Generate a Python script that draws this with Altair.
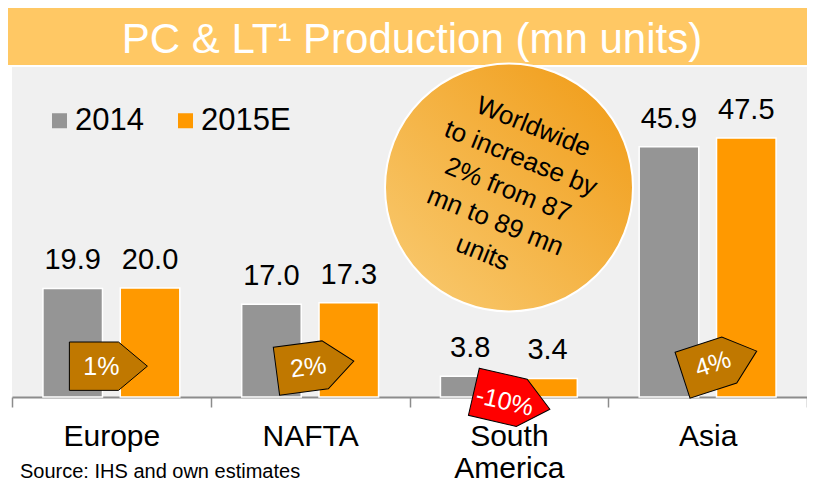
import altair as alt
import pandas as pd

# ---- data ----
regions = ["Europe", "NAFTA", "South America", "Asia"]
years = ["2014", "2015E"]
values_2014 = [19.9, 17.0, 3.8, 45.9]
values_2015 = [20.0, 17.3, 3.4, 47.5]
change_pct = [1, 2, -10, 4]
title_text = "PC & LT\u00b9 Production (mn units)"
bubble_lines = ["Worldwide", "to increase by", "2% from 87", "mn to 89 mn", "units"]
source_text = "Source: IHS and own estimates"

rows = []
for r, a, b in zip(regions, values_2014, values_2015):
    rows.append({"region": r, "year": years[0], "value": a})
    rows.append({"region": r, "year": years[1], "value": b})
bars_df = pd.DataFrame(rows)
badge_df = pd.DataFrame({"region": regions, "change": change_pct})

FONT = "Liberation Sans"
GRAY = "#959595"
ORANGE = "#FF9900"
YDOM = [0, 60.5]
W, H = 795, 330

X = alt.X(
    "region:N",
    sort=regions,
    scale=alt.Scale(paddingInner=0, paddingOuter=0),
    axis=alt.Axis(
        title=None, labelAngle=0, labelFontSize=30, labelColor="black",
        labelFont=FONT, labelPadding=14, labelLineHeight=32,
        tickSize=10, tickBand="extent", tickColor="#8C8C8C", tickWidth=1.5,
        domainColor="#8C8C8C", domainWidth=2, grid=False,
        labelExpr="datum.value == 'South America' ? ['South', 'America'] : datum.value",
    ),
)
XOFF = alt.XOffset("year:N", sort=years, scale=alt.Scale(paddingInner=0.23, paddingOuter=0.4))
YSC = alt.Scale(domain=YDOM)

one = alt.Data(values=[{}])

banner = alt.Chart(one).mark_rect(color="#FFC864").encode(
    x=alt.value(-6), x2=alt.value(W), y=alt.value(-60), y2=alt.value(-2)
)
title = alt.Chart(one).mark_text(
    font=FONT, fontSize=42, color="white", align="center", baseline="alphabetic"
).encode(x=alt.value(400), y=alt.value(-14), text=alt.value(title_text))

bars = alt.Chart(bars_df).mark_bar(stroke="white", strokeWidth=1.5).encode(
    x=X,
    xOffset=XOFF,
    y=alt.Y("value:Q", scale=YSC, axis=None),
    color=alt.Color(
        "year:N", sort=years,
        scale=alt.Scale(domain=years, range=[GRAY, ORANGE]),
        legend=alt.Legend(
            orient="none", legendX=32, legendY=38, direction="horizontal",
            title=None, symbolType="square", symbolSize=225, symbolStrokeWidth=0,
            symbolOpacity=1, labelFontSize=31, labelFont=FONT, labelColor="black",
            labelOffset=0, columnPadding=26, padding=0,
        ),
    ),
)
labels = alt.Chart(bars_df).mark_text(
    font=FONT, fontSize=29, color="black", baseline="alphabetic", dy=-19
).encode(
    x=X, xOffset=XOFF,
    y=alt.Y("value:Q", scale=YSC, axis=None),
    text=alt.Text("value:Q", format=".1f"),
)

bubble = alt.Chart(one).mark_point(
    shape="circle", size=61504, filled=True, opacity=1,
    fill=alt.LinearGradient(
        gradient="linear", x1=1, y1=0, x2=0, y2=1,
        stops=[alt.GradientStop(color="#F09A14", offset=0),
               alt.GradientStop(color="#F9CC74", offset=1)],
    ),
    stroke="white", strokeWidth=2,
).encode(x=alt.value(497), y=alt.value(120.5))
bubble_text = alt.Chart(one).mark_text(
    font=FONT, fontSize=26, color="black", angle=22, lineHeight=34,
    align="center", baseline="middle", dy=-68,
).encode(x=alt.value(496), y=alt.value(123), text=alt.value(bubble_lines))

PENT = "M-1,-0.62L0.26,-0.62L1,0L0.26,0.62L-1,0.62Z"
badge_base = alt.Chart(badge_df).transform_calculate(
    by="datum.region == 'Asia' ? 6.2 : datum.change < 0 ? -0.65 : 5.65",
    bx="datum.region == 'Europe' ? -3 : datum.region == 'NAFTA' ? 5 : datum.region == 'South America' ? 3 : 12",
    rot="datum.region == 'NAFTA' ? 352.5 : datum.region == 'South America' ? 13 : datum.region == 'Asia' ? 342 : 0",
    lbl="datum.change + '%'",
)
badges = badge_base.mark_point(
    shape=PENT, size=6084, filled=True, opacity=1, stroke="black", strokeWidth=1,
    xOffset=alt.ExprRef("datum.bx"),
).encode(
    x=X,
    y=alt.Y("by:Q", scale=YSC, axis=None),
    angle=alt.Angle("rot:Q", scale=None),
    fill=alt.condition("datum.change < 0", alt.value("#FF0000"), alt.value("#C07800")),
)
badge_text = badge_base.mark_text(
    font=FONT, fontSize=25, color="white", baseline="middle", align="center",
    xOffset=alt.ExprRef("datum.bx - 7"), dy=1,
).encode(
    x=X,
    y=alt.Y("by:Q", scale=YSC, axis=None),
    angle=alt.Angle("rot:Q", scale=None),
    text="lbl:N",
)

source = alt.Chart(one).mark_text(
    font=FONT, fontSize=20, color="black", align="left", baseline="alphabetic"
).encode(x=alt.value(8), y=alt.value(411), text=alt.value(source_text))

chart = alt.layer(
    banner, title, bars, labels, bubble, bubble_text, badges, badge_text, source
).properties(
    width=W, height=H,
    autosize=alt.AutoSizeParams(type="none"),
    padding={"left": 4, "top": 59, "right": 0, "bottom": 86},
    background="white",
).configure_view(stroke=None, fill="#F0F0F0").configure_text(font=FONT)

chart.save("out.html", embed_options={"renderer": "svg", "actions": False})
